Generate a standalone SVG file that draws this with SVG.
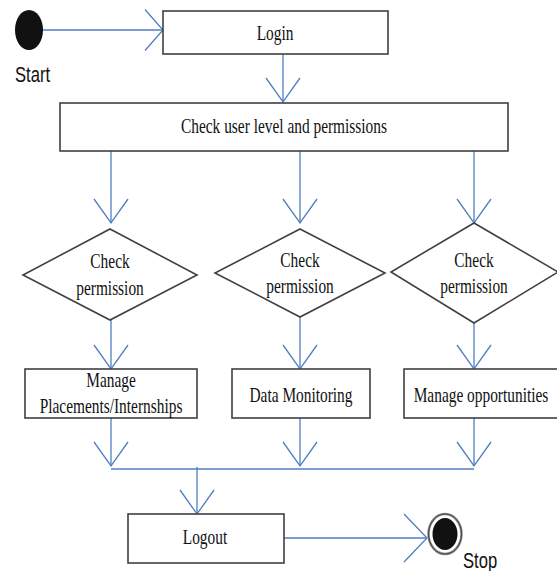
<svg xmlns="http://www.w3.org/2000/svg" width="557" height="571" viewBox="0 0 557 571">
<style>
.box{fill:#fff;stroke:#404040;stroke-width:1.6}
.con{fill:none;stroke:#4f7fc0;stroke-width:1.3}
.t{font-family:"Liberation Serif","Times New Roman",serif;font-size:15.4px;fill:#111;text-anchor:middle}
.s{font-family:"Liberation Sans",Arial,sans-serif;font-size:16.6px;fill:#111}
</style>
<defs>
<marker id="v" markerUnits="userSpaceOnUse" markerWidth="60" markerHeight="60" refX="30" refY="30" orient="auto" viewBox="0 0 60 60" overflow="visible">
<path d="M6,13 L30,30 L6,47" fill="none" stroke="#4f7fc0" stroke-width="1.3"/>
</marker>
<marker id="h1" markerUnits="userSpaceOnUse" markerWidth="60" markerHeight="60" refX="30" refY="30" orient="auto" viewBox="0 0 60 60" overflow="visible">
<path d="M12,9.5 L30,30 L12,50.5" fill="none" stroke="#4f7fc0" stroke-width="1.3"/>
</marker>
<marker id="h2" markerUnits="userSpaceOnUse" markerWidth="60" markerHeight="60" refX="30" refY="30" orient="auto" viewBox="0 0 60 60" overflow="visible">
<path d="M7,6 L30,30 L7,54" fill="none" stroke="#4f7fc0" stroke-width="1.3"/>
</marker>
</defs>

<g id="connectors">
<path class="con" d="M43,30 H163" marker-end="url(#h1)"/>
<path class="con" d="M283,54 V102" marker-end="url(#v)"/>
<path class="con" d="M111,151 V223" marker-end="url(#v)"/>
<path class="con" d="M300,151 V223" marker-end="url(#v)"/>
<path class="con" d="M474,151 V223" marker-end="url(#v)"/>
<path class="con" d="M111,320 V369" marker-end="url(#v)"/>
<path class="con" d="M300,317 V369" marker-end="url(#v)"/>
<path class="con" d="M474,323 V369" marker-end="url(#v)"/>
<path class="con" d="M111,418 V466" marker-end="url(#v)"/>
<path class="con" d="M300,418 V466" marker-end="url(#v)"/>
<path class="con" d="M474,418 V466" marker-end="url(#v)"/>
<path class="con" d="M111,469 H474"/>
<path class="con" d="M197,467 V514" marker-end="url(#v)"/>
<path class="con" d="M284,538 H427" marker-end="url(#h2)"/>
</g>

<g id="start">
<ellipse cx="29" cy="30" rx="14" ry="20" fill="#111"/>
<text class="s" transform="translate(15,82) scale(1,1.35)">Start</text>
</g>

<g id="login">
<rect class="box" x="163" y="11" width="225" height="43"/>
<text class="t" transform="translate(275,40) scale(1,1.35)">Login</text>
</g>

<g id="check-user">
<rect class="box" x="60" y="103" width="448" height="48"/>
<text class="t" transform="translate(284,133) scale(1,1.35)">Check user level and permissions</text>
</g>

<g id="decision-1">
<polygon class="box" points="110,229 197,275 110,320 23,275"/>
<text class="t" transform="translate(110,268) scale(1,1.35)">Check</text>
<text class="t" transform="translate(110,295) scale(1,1.35)">permission</text>
</g>

<g id="decision-2">
<polygon class="box" points="300,229 385,273 300,317 215,273"/>
<text class="t" transform="translate(300,267) scale(1,1.35)">Check</text>
<text class="t" transform="translate(300,293) scale(1,1.35)">permission</text>
</g>

<g id="decision-3">
<polygon class="box" points="474,223 558,272 474,323 391,272"/>
<text class="t" transform="translate(474,267) scale(1,1.35)">Check</text>
<text class="t" transform="translate(474,293) scale(1,1.35)">permission</text>
</g>

<g id="manage-placements">
<rect class="box" x="25" y="369" width="172" height="49"/>
<text class="t" transform="translate(111,387) scale(1,1.35)">Manage</text>
<text class="t" transform="translate(111,413) scale(1,1.35)">Placements/Internships</text>
</g>

<g id="data-monitoring">
<rect class="box" x="232" y="369" width="138" height="49"/>
<text class="t" transform="translate(301,402) scale(1,1.35)">Data Monitoring</text>
</g>

<g id="manage-opportunities">
<rect class="box" x="404" y="369" width="160" height="49"/>
<text class="t" transform="translate(481,402) scale(1,1.35)">Manage opportunities</text>
</g>

<g id="logout">
<rect class="box" x="128" y="514" width="156" height="49"/>
<text class="t" transform="translate(205,544) scale(1,1.35)">Logout</text>
</g>

<g id="stop">
<ellipse cx="445" cy="534" rx="16.5" ry="20" fill="#fff" stroke="#8a8a8a" stroke-width="2.5"/>
<ellipse cx="445" cy="534" rx="16.5" ry="20" fill="none" stroke="#333" stroke-width="0.8"/>
<ellipse cx="445" cy="534" rx="12.5" ry="16" fill="#111"/>
<text class="s" transform="translate(463,568) scale(1,1.35)">Stop</text>
</g>
</svg>
